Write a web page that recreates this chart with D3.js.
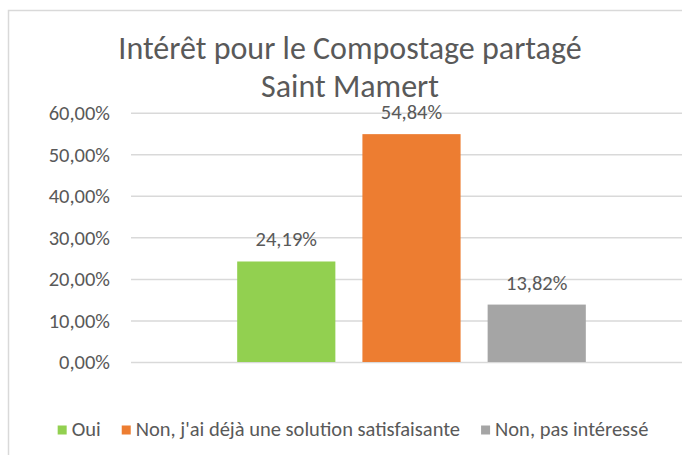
<!DOCTYPE html>
<html>
<head>
<meta charset="utf-8">
<script src="https://cdn.jsdelivr.net/npm/d3@7"></script>
<style>
	body { margin:0; background:#fff; }
	svg { display:block; font-family: Carlito, Lato, "Liberation Sans", sans-serif; }
</style>
</head>
<body>
<svg id="chart" width="682" height="455"></svg>
<script>
// data
var titleLines = ["Intérêt pour le Compostage partagé", "Saint Mamert"];
var category = ["Saint Mamert"];
var series = ["Oui", "Non, j'ai déjà une solution satisfaisante", "Non, pas intéressé"];
var values = [0.2419, 0.5484, 0.1382];
var colors = ["#92d050", "#ed7d31", "#a5a5a5"];
var yTicks = [0, 0.1, 0.2, 0.3, 0.4, 0.5, 0.6];

var width = 682, height = 455;
var plot = {left:131, right:692, top:112.7, bottom:362};

var fr = d3.formatLocale({decimal:",", thousands:" ", grouping:[3], currency:["","€"]});
var pct = fr.format(".2%");

var svg = d3.select("#chart");

// outer frame (cropped on the right like the source)
svg.append("rect")
	.attr("x", 8.5).attr("y", 10.5)
	.attr("width", 720).attr("height", 480)
	.attr("fill", "none")
	.attr("stroke", "#d9d9d9")
	.attr("stroke-width", 1.5);

// title
svg.append("text")
	.attr("text-anchor", "middle")
	.attr("font-size", "32px")
	.attr("fill", "#595959")
	.selectAll("tspan")
	.data(titleLines).enter()
	.append("tspan")
	.attr("x", 350)
	.attr("y", function(d,i){ return 59 + i*38; })
	.text(function(d){ return d; });

// scales
var y = d3.scaleLinear()
	.domain([0, 0.6])
	.range([plot.bottom, plot.top]);

var x0 = d3.scaleBand()
	.domain(category)
	.range([plot.left, plot.right]);

var x1 = d3.scaleBand()
	.domain(series)
	.range([0, x0.bandwidth()])
	.paddingInner(0.216)
	.paddingOuter(0.848);

// y axis + gridlines
var yAxis = svg.append("g")
	.attr("transform", "translate(" + plot.left + ",0)")
	.call(d3.axisLeft(y)
		.tickValues(yTicks)
		.tickFormat(pct)
		.tickSize(-(plot.right - plot.left))
		.tickPadding(21));

yAxis.attr("font-family", null).attr("font-size", null);
yAxis.select(".domain").remove();
yAxis.selectAll(".tick line")
	.attr("stroke", "#d9d9d9")
	.attr("stroke-width", 1.5);
yAxis.selectAll(".tick text")
	.attr("fill", "#595959")
	.attr("font-size", "20.5px")
	.attr("dy", "0.34em");

// bars
var barg = svg.append("g")
	.attr("transform", "translate(" + x0(category[0]) + ",0)");

barg.selectAll(".bar")
	.data(series).enter()
	.append("rect")
	.attr("class", "bar")
	.attr("x", function(d){ return x1(d); })
	.attr("y", function(d,i){ return y(values[i]); })
	.attr("width", x1.bandwidth())
	.attr("height", function(d,i){ return y(0) - y(values[i]); })
	.attr("fill", function(d,i){ return colors[i]; });

// data labels
barg.selectAll(".lbl")
	.data(series).enter()
	.append("text")
	.attr("class", "lbl")
	.attr("x", function(d){ return x1(d) + x1.bandwidth()/2; })
	.attr("y", function(d,i){ return y(values[i]) - 15; })
	.attr("text-anchor", "middle")
	.attr("font-size", "20.5px")
	.attr("fill", "#595959")
	.text(function(d,i){ return pct(values[i]); });

// legend
var legend = svg.append("g")
	.attr("font-size", "20.5px")
	.attr("fill", "#595959");

var items = legend.selectAll(".leg")
	.data(series).enter()
	.append("g")
	.attr("class", "leg");

items.append("rect")
	.attr("width", 9).attr("height", 9)
	.attr("y", -10.5)
	.attr("fill", function(d,i){ return colors[i]; });

items.append("text")
	.attr("x", 14)
	.text(function(d){ return d; });

var gap = 21, xpos = 0, offs = [];
items.each(function(){
	offs.push(xpos);
	xpos += 14 + d3.select(this).select("text").node().getComputedTextLength() + gap;
});
var total = xpos - gap;
var start = 353 - total/2;
items.attr("transform", function(d,i){ return "translate(" + (start + offs[i]) + ",436)"; });
</script>
</body>
</html>
